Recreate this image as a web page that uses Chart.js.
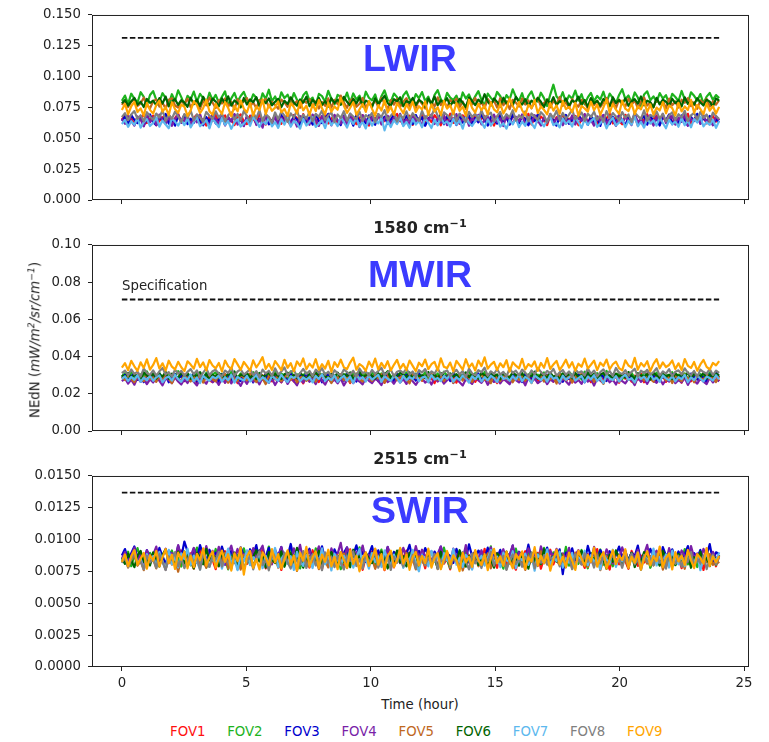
<!DOCTYPE html>
<html>
<head>
<meta charset="utf-8">
<script src="https://cdn.jsdelivr.net/npm/chart.js@4.4.1/dist/chart.umd.min.js"></script>
<style>
    body { margin: 0; background: #fff; }
    #page { position: relative; width: 769px; height: 742px; overflow: hidden; font-family: "DejaVu Sans", sans-serif; color: #222; }
    canvas { position: absolute; left: 0; }
    .txt { position: absolute; white-space: nowrap; line-height: 1; }
    .band { font-family: "Liberation Sans", Arial, sans-serif; font-weight: bold; font-size: 37.5px; color: #3b3bff; }
    .ptitle { font-weight: bold; font-size: 16px; transform: translateX(-50%); }
    sup { font-size: 70%; line-height: 0; vertical-align: 0.5em; }
    #ylabel { left: 35px; top: 340px; font-size: 13.3px; transform: translate(-50%, -50%) rotate(-90deg); }
    #legend { position: absolute; left: 170px; top: 725px; display: flex; gap: 21.7px; font-size: 13.3px; line-height: 1; }
</style>
</head>
<body>
<div id="page">
    <canvas id="lwirChart" width="769" height="215" style="top:0"></canvas>
    <canvas id="mwirChart" width="769" height="216" style="top:230px"></canvas>
    <canvas id="swirChart" width="769" height="236" style="top:461px"></canvas>

    <div class="txt band" style="left:363px;top:40px">LWIR</div>
    <div class="txt band" style="left:368px;top:256px">MWIR</div>
    <div class="txt band" style="left:371px;top:492px">SWIR</div>
    <div class="txt" style="left:122px;top:279px;font-size:13.3px">Specification</div>

    <div class="txt ptitle" style="left:420px;top:220px">1580 cm<sup>−1</sup></div>
    <div class="txt ptitle" style="left:420px;top:451px">2515 cm<sup>−1</sup></div>

    <div class="txt" id="ylabel">NEdN (<i>mW/m<sup>2</sup>/sr/cm<sup>−1</sup></i>)</div>
    <div class="txt" style="left:420px;top:698px;font-size:13.3px;transform:translateX(-50%)">Time (hour)</div>
    <div id="legend"></div>
</div>
<script>
const FOV_NAMES = ["FOV1", "FOV2", "FOV3", "FOV4", "FOV5", "FOV6", "FOV7", "FOV8", "FOV9"];
const FOV_COLORS = ["#ff1010", "#1db31d", "#0000cd", "#7a1fa8", "#c0681e", "#006400", "#5cb8ee", "#808080", "#ffa500"];

const TIME_TICKS = [0, 5, 10, 15, 20, 25];
const LWIR_TICKS = [0, 0.025, 0.05, 0.075, 0.1, 0.125, 0.15];
const MWIR_TICKS = [0, 0.02, 0.04, 0.06, 0.08, 0.1];
const SWIR_TICKS = [0, 0.0025, 0.005, 0.0075, 0.01, 0.0125, 0.015];

// specification level, drawn over the whole run
const SPEC_HOURS = [0, 24];
const LWIR_SPEC = 0.1315;
const MWIR_SPEC = 0.0707;
const SWIR_SPEC = 0.0137;

// samples span 0..24 h evenly; LWIR values in units of 1e-4
const lwirFov1 = [652,689,631,668,610,675,648,699,624,657,683,606,641,672,618,694, 635,663,701,627,649,680,613,666,691,622,655,604,677,640,697,619, 660,686,629,651,608,673,694,637,616,684,659,625,700,645,612,670, 633,692,657,618,679,641,605,688,664,630,697,623,653,676,611,682, 646,699,620,661,685,607,639,672,628,694,650,615,667,688,634,603, 677,656,691,621,644,680,612,669,698,637,658,626,683,609,674,642, 695,617,663,631,688,654,606,679,640,700,625,662,619,686,648,671, 610,693,636,659,681,622,647,604,675,696,633,668,615,689,657,628, 684,641,699,613,665,632,677,653,607,690,624,671,645,697,618,660, 638,682,606,654,693,627,670,649,611,687,635,662,700,620,676,643, 614,691,658,630,679,605,667,642,696,623,655,686,612,673,639,692, 626,664,608,681,650,699,617,657,688,634,672,621,645,681,636,659];
const lwirFov2 = [805,847,779,862,821,790,874,836,768,851,883,812,795,866,827,777, 858,803,889,834,771,845,816,879,798,861,826,783,870,809,852,790, 837,881,764,824,868,799,843,876,811,788,857,830,772,865,818,894, 801,839,782,873,826,854,793,867,813,785,849,877,806,830,769,860, 842,797,885,821,776,852,838,804,871,790,864,815,846,781,878,829, 808,856,773,841,889,812,796,863,834,770,848,880,819,787,859,825, 875,802,838,766,853,891,817,784,869,830,809,846,778,872,823,857, 795,840,883,811,767,862,828,800,876,843,788,851,815,897,836,804, 866,779,845,880,813,798,870,826,762,855,935,839,810,874,791,848, 821,887,806,858,775,832,869,801,844,815,878,793,863,827,784,852, 898,818,847,789,872,831,764,856,881,809,840,796,867,823,850,777, 861,835,803,884,816,790,873,845,807,859,782,838,868,812,851,826];
const lwirFov3 = [641,677,612,689,650,623,668,601,656,694,630,607,674,645,698,619, 661,603,683,638,692,615,659,626,687,644,606,672,633,699,620,655, 684,609,667,637,695,624,651,603,679,642,688,617,660,632,697,613, 647,675,604,690,628,663,619,681,652,600,686,635,670,611,693,640, 624,657,699,615,678,646,607,684,629,668,603,691,637,655,621,687, 663,610,694,641,675,618,652,697,626,664,605,683,648,616,689,631, 671,602,658,686,622,645,699,614,679,638,661,608,692,627,653,684, 617,666,630,695,643,604,676,656,620,689,635,668,611,698,647,623, 680,659,606,673,640,694,612,662,629,685,651,603,677,637,690,618, 657,625,696,644,671,609,683,633,664,601,688,649,616,675,628,692, 642,606,669,638,697,621,655,680,611,687,632,660,604,678,645,693, 614,662,627,686,651,603,674,640,699,619,666,636,682,608,657,629];
const lwirFov4 = [660,618,687,641,603,676,652,597,684,630,669,610,693,646,620,681, 601,657,690,625,642,678,606,664,629,697,613,651,593,683,658,617, 688,604,673,637,695,611,662,599,679,624,691,608,655,587,684,643, 614,686,602,667,634,698,615,659,596,680,639,671,610,693,651,601, 682,627,664,605,690,644,619,677,607,698,636,660,592,688,647,616, 672,630,695,612,658,683,603,669,641,699,621,653,610,686,633,664, 598,678,645,694,616,660,628,689,607,671,640,697,619,655,684,602, 667,635,691,613,649,676,605,692,631,662,600,683,647,618,675,638, 694,609,658,626,688,643,604,670,637,699,615,661,681,606,653,629, 685,612,666,640,697,620,648,603,679,635,690,617,663,646,601,688, 627,670,644,608,693,631,659,615,682,649,604,673,638,697,623,656, 684,611,668,634,690,603,657,641,675,618,687,629,662,606,680,645];
const lwirFov5 = [772,806,754,795,820,762,784,829,769,744,801,816,757,788,741,813, 825,766,750,804,779,822,751,793,810,738,805,768,830,789,746,809, 782,823,756,798,735,817,774,801,826,759,792,743,812,785,819,752, 797,771,740,814,791,756,831,774,803,747,808,788,818,754,800,741, 795,763,824,749,812,777,846,789,748,806,821,756,781,827,744,799, 765,815,752,828,786,738,809,773,820,755,797,825,762,791,746,813, 780,742,817,794,759,833,770,804,748,811,787,822,753,798,739,816, 775,828,761,793,745,819,784,807,750,826,768,801,737,812,790,757, 823,774,808,743,796,829,760,787,815,751,803,778,836,764,792,747, 818,781,756,811,795,740,824,769,806,752,789,827,763,800,745,814, 786,758,821,772,809,744,797,831,766,790,753,817,779,805,742,822, 768,799,750,813,788,826,761,794,739,808,783,819,757,801,773,810];
const lwirFov6 = [784,810,766,801,828,772,797,754,819,787,806,768,826,782,839,759, 800,817,771,810,790,756,829,777,813,763,836,792,769,822,798,760, 824,781,841,765,807,786,751,827,774,816,793,834,762,809,785,823, 768,797,820,753,804,779,832,791,764,815,789,838,761,812,784,827, 770,802,758,825,787,813,772,836,796,767,819,783,830,759,806,791, 752,824,778,809,845,785,766,817,799,833,760,803,788,827,771,812, 794,757,822,780,839,768,808,786,826,763,801,775,819,790,754,831, 802,769,814,787,858,798,765,823,795,758,829,781,811,767,836,793, 773,818,760,806,784,827,797,753,815,779,834,769,801,788,824,762, 807,791,838,771,812,756,826,783,803,766,819,795,760,832,786,810, 777,824,764,799,817,782,840,768,805,792,751,828,775,813,797,763, 820,785,809,758,833,779,801,772,826,790,766,814,798,757,823,806];
const lwirFov7 = [616,650,593,639,609,665,587,630,656,600,624,670,595,644,612,582, 661,636,603,649,607,663,588,633,671,598,620,647,581,658,626,591, 667,609,642,577,631,654,596,619,650,602,673,637,593,645,615,668, 597,632,585,655,611,666,594,640,621,579,659,604,633,672,592,618, 646,583,662,608,640,599,675,630,588,654,617,664,596,635,580,657, 603,648,621,669,565,638,592,647,615,670,599,634,586,656,612,643, 590,661,627,584,652,605,674,619,637,595,658,611,646,578,665,624, 600,639,681,629,586,654,606,637,667,595,623,578,648,613,665,590, 635,602,669,621,584,657,632,598,645,674,607,626,589,660,617,643, 596,671,630,585,653,609,640,664,593,622,649,581,636,668,604,627, 655,591,643,612,676,598,633,587,661,619,647,603,670,625,582,650, 614,637,594,663,606,644,589,657,628,675,597,631,609,652,585,640];
const lwirFov8 = [672,704,647,693,721,658,687,638,712,676,651,701,668,728,642,691, 659,716,679,633,697,665,724,646,694,671,636,714,683,656,719,669, 702,637,688,711,651,698,645,722,680,641,707,662,730,639,696,672, 627,710,655,717,684,634,703,667,727,645,692,660,713,638,698,675, 725,650,686,709,632,694,664,720,643,701,677,655,716,640,689,668, 706,631,697,673,729,648,684,712,636,691,662,719,652,704,670,641, 723,659,695,678,744,682,646,711,689,657,722,640,701,668,633,715, 674,699,647,726,661,690,708,637,679,714,653,696,671,728,644,687, 663,718,639,702,676,649,712,685,629,697,667,724,645,706,658,692, 731,654,683,710,641,699,672,716,650,688,635,721,663,705,678,646, 713,668,694,632,708,681,655,727,642,690,674,718,659,700,637,685, 711,648,696,670,723,639,686,706,652,715,664,693,634,709,680,657];
const lwirFov9 = [730,778,694,760,795,713,743,684,787,731,700,770,806,716,752,689, 793,737,707,774,756,682,726,800,769,704,745,813,720,691,781,734, 698,795,747,678,763,719,807,740,710,787,685,758,729,816,697,772, 723,749,799,712,738,680,784,753,702,798,727,765,687,776,721,811, 744,695,790,715,759,732,827,764,706,748,793,691,736,779,714,802, 739,683,770,725,808,709,757,690,785,746,703,778,730,797,713,761, 734,799,689,775,717,752,686,804,741,769,698,788,722,757,682,813, 747,708,781,728,766,695,792,735,711,784,701,749,823,762,718,796, 728,687,772,745,809,705,759,731,694,786,724,768,699,803,737,755, 712,789,681,763,742,716,797,727,774,690,751,815,708,779,733,698, 806,740,721,783,697,760,735,802,713,776,692,749,726,794,703,767, 745,685,788,719,758,730,812,707,771,738,696,784,724,762,701,755];

// MWIR values in units of 1e-4
const mwirFov1 = [283,299,270,292,263,305,279,290,258,297,275,302,285,266,308,288, 261,296,280,304,268,294,277,307,259,291,283,301,272,264,298,278, 306,262,289,274,303,257,287,295,271,309,281,292,260,300,276,289, 267,306,284,262,297,273,304,266,293,281,256,301,288,269,308,263, 295,278,302,271,291,264,299,276,289,258,307,284,268,297,275,292, 263,304,280,295,259,300,287,271,309,282,291,262,302,278,288,297, 270,306,275,284,257,298,289,266,303,279,294,260,305,283,272,299, 286,264,296,277,308,269,290,281,257,301,274,293,262,305,287,276, 299,267,291,282,304,259,296,273,288,306,265,294,279,302,270,285, 261,298,284,307,272,290,263,300,278,295,268,305,286,274,293,259, 303,281,289,266,297,276,308,262,292,284,270,301,279,296,264,288, 306,273,294,260,299,283,267,304,287,275,291,263,302,280,296,269];
const mwirFov2 = [293,311,281,316,290,275,305,297,320,282,307,289,314,277,301,312, 285,298,322,291,278,309,295,272,317,299,284,313,288,304,315,281, 308,293,270,319,298,286,310,279,302,290,316,283,312,296,275,306, 292,318,285,309,297,277,321,293,305,282,300,314,273,303,289,316, 294,310,283,302,276,311,298,287,313,292,307,279,320,296,308,284, 312,300,281,310,289,321,294,275,306,299,291,315,280,305,296,311, 288,317,274,303,292,309,285,319,297,278,314,290,306,283,300,322, 287,311,295,276,318,302,284,308,293,271,313,299,286,316,291,305, 280,309,297,320,285,303,278,315,294,307,289,274,312,298,283,317, 301,290,306,277,319,295,308,282,311,288,299,323,284,304,292,314, 279,307,296,312,286,301,275,318,293,309,281,314,297,288,305,291, 316,283,303,294,310,278,298,313,289,306,296,280,315,292,302,287];
const mwirFov3 = [286,302,272,294,308,275,290,263,304,283,295,268,307,280,298,262, 292,305,277,300,271,303,289,310,266,296,279,306,274,293,291,264, 304,282,309,270,299,287,268,307,281,297,261,305,290,276,308,269, 296,284,302,273,293,265,306,288,271,300,283,309,267,295,278,303, 262,292,307,276,299,286,298,270,306,284,293,266,304,289,273,307, 285,300,268,296,310,277,291,263,305,294,275,303,286,297,271,309, 280,294,264,301,288,274,306,283,297,269,308,291,277,302,286,265, 299,281,310,272,293,287,304,266,298,279,307,289,270,301,284,296, 263,305,291,276,309,282,295,268,303,287,274,300,292,265,306,280, 297,271,304,289,262,301,285,294,277,308,290,269,299,283,305,273, 292,307,279,296,266,303,288,275,310,281,298,264,302,286,293,278, 306,270,295,284,300,267,309,291,276,297,288,263,304,282,318,289];
const mwirFov4 = [268,283,255,276,249,287,264,280,252,278,261,285,270,246,282,274, 257,289,266,250,279,258,286,265,245,283,272,254,288,262,275,248, 284,259,281,256,290,267,243,277,254,285,266,279,251,288,270,259, 282,247,276,262,287,253,280,268,246,284,260,289,265,279,252,288, 271,249,283,261,277,256,282,245,273,287,257,280,266,251,285,270, 258,281,269,247,289,263,275,254,283,261,279,253,286,267,248,274, 284,260,277,250,288,266,281,255,273,290,258,284,262,245,279,269, 253,286,272,259,283,248,276,264,289,256,280,267,251,285,274,261, 278,246,287,263,282,257,270,284,252,277,265,289,255,281,268,249, 286,260,275,253,290,266,279,244,283,271,258,287,262,276,250,284, 268,256,281,273,247,288,264,279,254,285,269,259,282,251,277,266, 290,257,274,262,286,248,280,271,255,283,265,252,287,261,278,267];
const mwirFov5 = [292,274,303,281,262,299,287,268,309,278,290,264,301,276,306,285, 257,298,280,270,304,283,266,296,276,310,260,291,300,279,267,302, 284,307,259,295,281,269,303,286,272,308,289,263,299,282,252,296, 305,277,298,268,290,309,275,301,261,287,294,270,280,303,265,296, 307,276,290,258,300,284,305,273,297,262,288,309,279,266,302,289, 269,301,282,306,260,294,277,303,273,288,299,279,256,305,284,294, 272,297,263,308,286,275,300,268,291,304,259,283,296,271,306,287, 264,299,280,310,274,293,257,302,285,269,307,281,296,262,290,276, 303,271,289,258,305,283,297,266,300,278,292,255,306,287,273,298, 261,294,279,308,270,286,302,264,296,281,253,304,288,275,299,267, 291,306,276,284,260,301,289,272,309,280,265,297,286,303,271,292, 258,300,283,268,305,277,294,262,299,285,274,307,279,290,263,296];
const mwirFov6 = [301,289,313,284,305,296,278,316,299,288,310,282,306,293,318,280, 308,297,287,314,292,309,281,303,295,317,286,306,276,301,290,312, 298,283,309,294,320,282,304,297,313,287,302,279,311,292,300,316, 285,307,296,280,305,314,289,301,286,311,298,277,308,293,318,283, 304,297,279,309,290,314,285,306,296,315,278,303,317,289,299,309, 297,281,311,292,305,320,284,301,294,312,303,288,315,284,308,295, 300,286,317,291,304,279,312,298,283,310,293,306,276,302,315,289, 307,294,281,313,299,287,318,292,304,278,309,296,285,316,301,290, 311,284,303,295,319,282,306,298,288,314,291,302,277,310,297,305, 283,313,290,300,280,316,294,307,286,303,312,289,299,278,309,293, 304,287,317,296,281,311,300,292,306,276,314,298,285,308,291,303, 279,310,295,302,288,315,284,306,297,290,313,282,301,294,308,300];
const mwirFov7 = [280,294,268,291,275,300,264,287,272,297,270,289,299,262,285,293, 271,302,279,265,291,274,304,267,288,258,297,281,270,292,283,298, 266,289,273,303,260,291,279,271,296,266,284,301,268,290,276,259, 297,282,270,302,279,263,294,285,299,267,288,276,290,261,296,280, 305,269,287,274,299,264,284,297,270,292,258,303,278,290,266,298, 276,289,302,264,295,281,269,298,284,260,296,272,290,279,304,267, 287,293,262,300,277,285,268,296,281,303,265,289,274,299,283,260, 294,278,301,266,290,272,297,284,263,306,279,288,270,295,276,302, 268,291,281,259,299,286,273,294,265,301,280,290,262,297,275,288, 304,271,284,296,263,292,278,300,269,287,257,298,282,274,295,266, 289,303,275,284,261,297,280,292,270,305,277,286,264,299,283,272, 295,267,290,279,302,262,288,274,298,281,266,293,285,271,300,278];
const mwirFov8 = [311,325,299,331,306,320,293,335,312,302,326,298,321,339,304,316, 292,330,308,323,296,318,333,305,326,289,314,336,300,321,329,308, 294,325,312,340,298,320,331,303,316,334,301,322,290,330,309,324, 297,337,304,320,342,299,318,328,293,311,334,306,323,295,330,313, 338,302,319,291,327,310,299,331,317,303,324,292,336,311,320,298, 328,307,322,340,300,315,330,294,319,325,312,336,302,320,291,327, 314,333,297,321,308,338,301,317,326,295,312,329,305,322,289,335, 310,300,327,316,341,296,320,307,332,303,318,293,337,311,324,299, 330,314,292,326,305,339,318,301,323,310,334,297,315,328,302,320, 288,333,312,321,299,336,307,325,294,317,331,304,322,296,339,313, 306,327,300,318,335,292,324,311,329,303,316,338,298,321,309,332, 295,319,326,304,337,313,300,323,291,330,317,308,334,301,325,312];
const mwirFov9 = [341,365,327,377,348,323,369,339,385,330,355,392,336,364,325,378, 346,331,372,343,322,375,357,335,388,344,369,326,381,352,337,366, 320,379,348,333,387,358,329,371,349,324,380,342,367,397,334,361, 328,376,353,327,383,340,365,321,374,350,390,332,362,341,386,329, 359,336,377,318,370,345,383,342,333,368,394,330,360,347,324,373, 344,389,331,366,339,375,326,356,382,335,361,328,379,350,322,367, 348,384,333,359,372,326,391,345,338,368,321,377,354,330,386,342, 363,325,379,349,396,335,357,372,328,364,343,381,319,369,351,337, 388,331,360,346,374,323,366,340,392,334,358,377,329,353,383,341, 370,324,362,345,389,336,356,378,327,367,349,384,332,359,373,338, 326,380,352,341,393,330,365,347,375,322,361,386,337,369,344,355, 379,333,364,328,387,350,339,371,324,358,382,345,331,366,353,376];

// SWIR values in units of 1e-5
const swirFov1 = [832,891,790,866,912,806,852,771,885,823,873,797,904,840,764,880, 818,862,785,915,846,800,893,776,858,920,825,789,878,842,768,871, 830,909,795,851,896,773,845,884,810,902,780,862,838,925,774,866, 820,897,853,762,887,829,913,792,860,806,893,843,781,917,821,859, 768,889,847,799,905,834,870,777,852,924,808,844,898,763,862,826, 906,791,874,843,760,896,851,782,888,817,858,914,786,845,899,804, 866,775,901,833,857,792,919,812,849,767,882,838,903,788,861,827, 772,895,841,811,928,796,868,834,779,910,853,801,887,823,764,876, 847,909,785,863,818,897,772,856,833,921,806,879,842,769,893,815, 861,790,904,837,778,886,852,813,926,799,870,828,765,898,845,807, 883,832,771,912,855,794,876,820,903,784,866,839,917,803,850,787, 894,826,859,776,908,843,798,881,815,869,762,900,835,857,791,874];
const swirFov2 = [858,824,905,792,873,934,838,869,801,896,846,921,812,884,770,863, 915,830,857,789,909,851,798,876,938,815,866,781,892,834,927,803, 871,846,767,903,827,882,795,932,855,890,779,868,918,808,849,946, 823,875,786,899,836,864,925,811,857,774,897,845,873,817,931,852, 790,888,833,914,802,866,768,861,907,820,879,843,940,798,871,829, 896,784,856,922,816,869,792,904,848,928,839,883,805,862,917,787, 870,835,911,797,859,882,814,937,845,776,893,828,866,805,921,853, 789,876,841,906,819,863,947,800,884,832,772,898,857,815,929,840, 868,793,912,851,826,889,808,935,862,781,901,837,874,818,943,796, 855,886,810,919,844,775,897,830,867,923,803,879,848,791,914,860, 827,902,788,871,841,930,812,858,895,779,866,834,908,822,885,847, 918,799,863,837,926,806,874,852,785,899,828,912,843,870,801,881];
const swirFov3 = [875,926,836,894,947,852,883,816,918,861,889,842,935,868,803,912, 876,829,952,864,985,907,821,931,849,958,878,834,921,857,897,838, 946,866,809,914,881,827,940,872,845,925,879,957,831,898,860,936, 818,911,874,943,840,868,966,851,909,822,893,863,929,836,901,870, 948,843,884,812,924,867,855,897,939,838,879,955,858,906,826,882, 949,847,916,820,869,942,835,903,861,927,829,888,959,846,874,911, 853,934,877,819,906,862,945,831,890,872,817,928,856,899,841,963, 871,826,914,887,848,937,809,882,859,920,836,896,868,953,824,905, 879,842,961,851,917,830,893,866,938,813,885,857,924,730,899,865, 932,840,876,905,821,951,863,889,834,918,872,844,909,827,880,946, 858,913,835,897,869,954,822,886,847,928,861,903,816,942,875,852, 924,839,907,866,882,950,828,894,857,919,843,876,965,832,901,888];
const swirFov4 = [851,904,826,873,938,835,886,809,917,858,880,946,832,867,929,815, 894,851,957,862,828,903,871,935,819,884,846,950,860,912,838,944, 869,801,895,952,852,927,830,886,871,812,933,856,907,952,836,879, 806,921,863,941,840,893,817,932,868,959,834,883,914,825,875,947, 850,898,813,931,864,889,975,832,940,870,804,902,859,954,843,881, 818,926,861,897,829,943,872,845,910,815,936,866,899,833,950,854, 921,874,838,908,827,889,946,853,876,811,930,867,894,842,958,822, 885,903,849,917,831,872,940,808,896,861,925,836,883,955,819,902, 869,844,932,857,889,814,947,876,838,911,863,928,826,893,850,936, 807,881,918,845,899,869,822,943,856,890,834,924,872,812,907,851, 939,866,828,897,854,921,843,884,959,830,876,913,847,900,818,933, 862,887,839,915,871,824,950,858,892,836,928,864,817,905,849,880];
const swirFov5 = [820,856,781,839,878,795,832,760,861,812,848,774,889,827,786,865, 804,842,748,857,798,866,829,770,883,810,846,779,874,836,853,790, 827,896,772,862,815,849,765,881,817,870,788,841,903,803,859,776, 831,888,780,849,821,876,793,862,754,838,894,809,867,796,846,768, 886,834,782,861,813,878,828,891,777,853,806,872,763,840,899,791, 859,771,836,905,801,850,785,874,818,863,783,896,821,848,766,869, 830,797,858,812,884,769,843,825,901,787,855,819,872,758,837,879, 804,866,791,847,823,893,775,860,832,805,881,769,852,816,888,798, 841,762,874,826,857,793,909,814,845,780,867,835,799,883,821,856, 772,898,838,809,864,785,851,827,890,761,842,873,806,857,794,880, 818,847,776,866,833,902,789,853,812,871,797,839,884,765,829,861, 792,875,820,848,771,895,836,808,862,784,854,823,887,801,840,815];
const swirFov6 = [852,810,890,838,784,876,912,825,866,797,901,846,789,881,923,831, 859,804,906,868,815,893,848,776,898,860,807,928,837,875,862,792, 909,844,880,818,899,771,872,839,894,803,864,917,829,877,781,903, 846,816,841,908,787,861,894,822,935,853,780,886,798,874,840,913, 786,889,831,902,855,809,900,826,868,783,921,845,873,794,897,850, 815,884,806,906,857,773,872,833,914,821,869,790,897,842,880,803, 862,827,889,812,851,776,904,838,866,795,879,824,917,848,788,870, 835,909,801,857,883,819,846,780,893,862,829,906,813,875,841,797, 881,853,772,898,834,866,811,925,849,792,871,827,904,858,783,887, 820,861,843,912,798,876,835,859,804,890,845,771,883,826,915,852, 809,868,838,897,785,856,824,903,863,817,879,840,796,911,850,831, 873,802,889,847,818,884,779,862,834,906,821,857,792,878,843,868];
const swirFov7 = [835,879,798,858,912,812,849,769,886,823,871,790,904,832,764,920, 808,864,781,893,847,928,802,875,826,766,901,838,786,866,804,889, 773,855,930,818,847,760,882,829,916,800,862,836,897,776,874,812, 851,935,784,848,887,809,870,762,905,830,795,879,852,777,899,821, 931,806,864,758,890,843,800,873,831,911,780,861,926,808,850,772, 894,824,868,785,915,841,797,883,820,903,779,862,833,920,805,752, 878,846,790,912,827,869,771,894,838,815,927,803,857,784,881,849, 765,906,832,874,796,853,918,811,867,783,898,840,822,909,776,860, 837,891,802,872,756,883,845,816,924,794,866,831,905,780,854,819, 896,773,862,840,913,799,878,826,852,767,889,843,811,921,786,870, 829,907,788,856,834,899,763,875,848,812,930,797,863,825,885,781, 914,837,806,868,791,902,853,819,880,760,847,893,815,871,833,901];
const swirFov8 = [819,862,785,844,893,806,831,768,874,823,852,779,888,826,761,870, 838,902,791,856,776,840,883,811,859,764,897,829,786,866,846,904, 789,857,820,771,880,835,892,781,828,869,767,851,906,800,843,759, 885,832,861,788,898,820,773,875,839,805,910,778,842,886,797,853, 760,899,815,864,784,871,817,766,868,834,908,793,847,772,887,824, 855,897,780,839,812,878,762,866,821,894,790,858,809,881,774,846, 873,801,858,825,889,770,843,816,901,784,862,835,795,880,827,766, 891,813,848,777,869,830,905,796,855,821,874,762,838,884,808,852, 787,866,829,897,775,845,818,879,803,861,834,909,790,849,823,871, 768,885,841,804,893,826,857,781,876,812,862,797,840,902,815,853, 779,869,833,892,806,847,764,880,824,858,799,888,817,845,772,896, 836,810,874,787,859,828,903,792,851,815,877,769,844,883,806,862];
const swirFov9 = [826,884,791,869,917,803,851,895,772,878,836,911,789,860,926,815, 882,770,898,842,905,775,873,784,889,838,932,796,861,907,780,852, 914,825,886,757,893,831,938,725,868,912,779,847,766,901,857,798, 925,821,887,773,845,916,802,876,759,897,834,943,788,859,908,777, 883,826,921,790,866,768,902,840,778,915,809,874,751,857,899,794, 845,930,803,886,765,872,913,786,838,935,812,881,763,862,904,798, 871,817,929,781,856,894,768,843,911,805,877,836,753,899,822,864, 786,918,840,802,887,761,852,928,815,869,794,906,833,775,884,849, 908,770,861,827,941,798,874,816,889,757,846,921,806,867,783,898, 834,762,913,851,795,880,826,937,788,859,901,772,844,917,809,876, 841,925,779,866,818,896,764,853,909,797,871,832,946,784,857,890, 766,902,829,875,801,919,838,776,887,855,812,934,793,868,823,871];

const lwirSeries = [lwirFov1, lwirFov2, lwirFov3, lwirFov4, lwirFov5, lwirFov6, lwirFov7, lwirFov8, lwirFov9];
const mwirSeries = [mwirFov1, mwirFov2, mwirFov3, mwirFov4, mwirFov5, mwirFov6, mwirFov7, mwirFov8, mwirFov9];
const swirSeries = [swirFov1, swirFov2, swirFov3, swirFov4, swirFov5, swirFov6, swirFov7, swirFov8, swirFov9];

const TICK_FONT = { family: "DejaVu Sans", size: 13.3 };
const INK = "#222";

// matplotlib-style box round the plot area
const framePlugin = {
    id: "frame",
    afterDraw(chart) {
        const { ctx, chartArea: a } = chart;
        ctx.save();
        ctx.strokeStyle = INK;
        ctx.lineWidth = 1;
        ctx.strokeRect(a.left + 0.5, a.top + 0.5, a.right - a.left - 1, a.bottom - a.top - 1);
        ctx.restore();
    },
};

function toPoints(values, unit) {
    const step = 24 / (values.length - 1);
    return values.map((v, i) => ({ x: i * step, y: v * unit }));
}

function buildPanel(canvasId, series, unit, spec, yTicks, decimals, showTimeLabels, xAxisHeight) {
    // Chart.js paints lower `order` last, so FOV9 ends up on top like matplotlib
    const datasets = series.map((values, i) => ({
        label: FOV_NAMES[i],
        data: toPoints(values, unit),
        order: series.length - i,
        borderColor: FOV_COLORS[i],
        borderWidth: 2.2,
        borderJoinStyle: "round",
        pointRadius: 0,
        tension: 0,
        fill: false,
    }));
    datasets.push({
        label: "Specification",
        data: SPEC_HOURS.map((h) => ({ x: h, y: spec })),
        order: 0,
        borderColor: "#111",
        borderWidth: 1.8,
        borderDash: [5.5, 2.5],
        pointRadius: 0,
        fill: false,
    });

    return new Chart(document.getElementById(canvasId), {
        type: "line",
        data: { datasets },
        options: {
            responsive: false,
            animation: false,
            events: [],
            layout: { padding: { top: 13, right: 20, bottom: 0, left: 0 } },
            plugins: { legend: { display: false }, tooltip: { enabled: false } },
            scales: {
                x: {
                    type: "linear",
                    min: -1.2,
                    max: 25.2,
                    afterBuildTicks(scale) {
                        scale.ticks = TIME_TICKS.map((v) => ({ value: v }));
                    },
                    afterFit(scale) {
                        scale.height = xAxisHeight;
                    },
                    border: { display: false },
                    grid: { drawOnChartArea: false, drawTicks: true, tickLength: 4, tickColor: INK },
                    ticks: {
                        display: showTimeLabels,
                        padding: 5,
                        autoSkip: false,
                        maxRotation: 0,
                        font: TICK_FONT,
                        color: INK,
                    },
                },
                y: {
                    min: 0,
                    max: yTicks[yTicks.length - 1],
                    afterBuildTicks(scale) {
                        scale.ticks = yTicks.map((v) => ({ value: v }));
                    },
                    afterFit(scale) {
                        scale.width = 92;
                    },
                    border: { display: false },
                    grid: { drawOnChartArea: false, drawTicks: true, tickLength: 4, tickColor: INK },
                    ticks: {
                        padding: 7,
                        font: TICK_FONT,
                        color: INK,
                        callback: (value) => Number(value).toFixed(decimals),
                    },
                },
            },
        },
        plugins: [framePlugin],
    });
}

buildPanel("lwirChart", lwirSeries, 1e-4, LWIR_SPEC, LWIR_TICKS, 3, false, 10);
buildPanel("mwirChart", mwirSeries, 1e-4, MWIR_SPEC, MWIR_TICKS, 2, false, 10);
buildPanel("swirChart", swirSeries, 1e-5, SWIR_SPEC, SWIR_TICKS, 4, true, 30);

const legend = document.getElementById("legend");
FOV_NAMES.forEach((name, i) => {
    const item = document.createElement("span");
    item.textContent = name;
    item.style.color = FOV_COLORS[i];
    legend.appendChild(item);
});
</script>
</body>
</html>
